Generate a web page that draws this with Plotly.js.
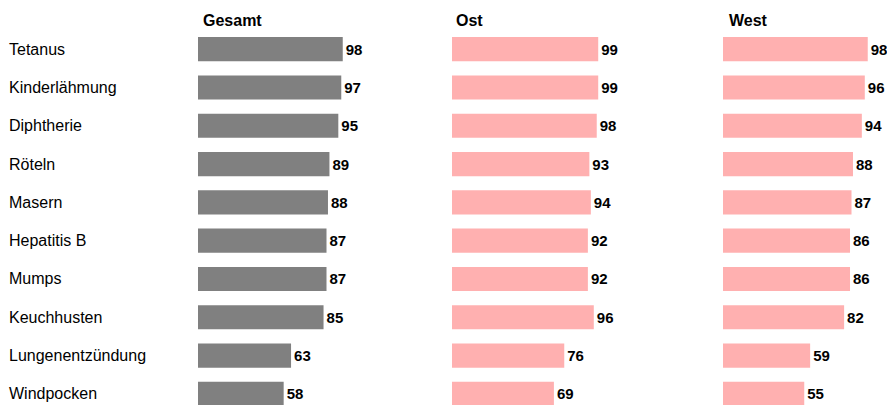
<!DOCTYPE html>
<html>
<head>
<meta charset="utf-8">
<script src="https://cdn.plot.ly/plotly-3.0.1.min.js"></script>
<style>html,body{margin:0;padding:0;background:#fff;}#chart{width:887px;height:405px;}</style>
</head>
<body>
<div id="chart"></div>
<script>
const categories = ["Tetanus","Kinderlähmung","Diphtherie","Röteln","Masern","Hepatitis B","Mumps","Keuchhusten","Lungenentzündung","Windpocken"];
const panelTitles = ["Gesamt","Ost","West"];
const gesamt = [98,97,95,89,88,87,87,85,63,58];
const ost = [99,99,98,93,94,92,92,96,76,69];
const west = [98,96,94,88,87,86,86,82,59,55];

const W = 887, H = 405;
const FONT = "Liberation Sans, Arial, sans-serif";
const colors = ["#808080","#FFB0B0","#FFB0B0"];
const series = [gesamt, ost, west];
const axes = ["x","x2","x3"];
const leftPx = [198, 452, 723];
const spanPx = 147.7;

const traces = series.map((vals, i) => ({
  type: "bar",
  orientation: "h",
  x: vals,
  y: categories,
  xaxis: axes[i],
  yaxis: "y",
  width: 0.63,
  marker: {color: colors[i]},
  text: vals.map(String),
  textposition: "outside",
  cliponaxis: false,
  textfont: {family: FONT, size: 15, color: "#000", weight: "bold"},
  hoverinfo: "none"
}));

const xa = (i) => ({
  domain: [leftPx[i]/W, (leftPx[i]+spanPx)/W],
  range: [0, 100],
  showticklabels: false, showgrid: false, zeroline: false, showline: false, ticks: "",
  anchor: "y", fixedrange: true
});

const annotations = [];
categories.forEach(c => annotations.push({
  text: c, xref: "paper", yref: "y", x: 7/W, y: c, xanchor: "left", yanchor: "middle",
  showarrow: false, font: {family: FONT, size: 16, color: "#000"}
}));
const titleX = [201, 454, 727];
panelTitles.forEach((t, i) => annotations.push({
  text: "<b>" + t + "</b>", xref: "paper", yref: "paper", x: titleX[i]/W, y: (405-21)/375,
  xanchor: "left", yanchor: "middle", showarrow: false,
  font: {family: FONT, size: 16, color: "#000"}
}));

const layout = {
  width: W, height: H,
  margin: {l: 0, r: 0, t: 30, b: 0, pad: 0},
  paper_bgcolor: "#fff", plot_bgcolor: "#fff",
  showlegend: false,
  xaxis: xa(0), xaxis2: xa(1), xaxis3: xa(2),
  yaxis: {
    type: "category", range: [9.29, -0.5], showticklabels: false, showgrid: false,
    zeroline: false, showline: false, ticks: "", fixedrange: true
  },
  annotations: annotations,
  font: {family: FONT}
};

Plotly.newPlot("chart", traces, layout, {displayModeBar: false, staticPlot: true});
</script>
</body>
</html>
